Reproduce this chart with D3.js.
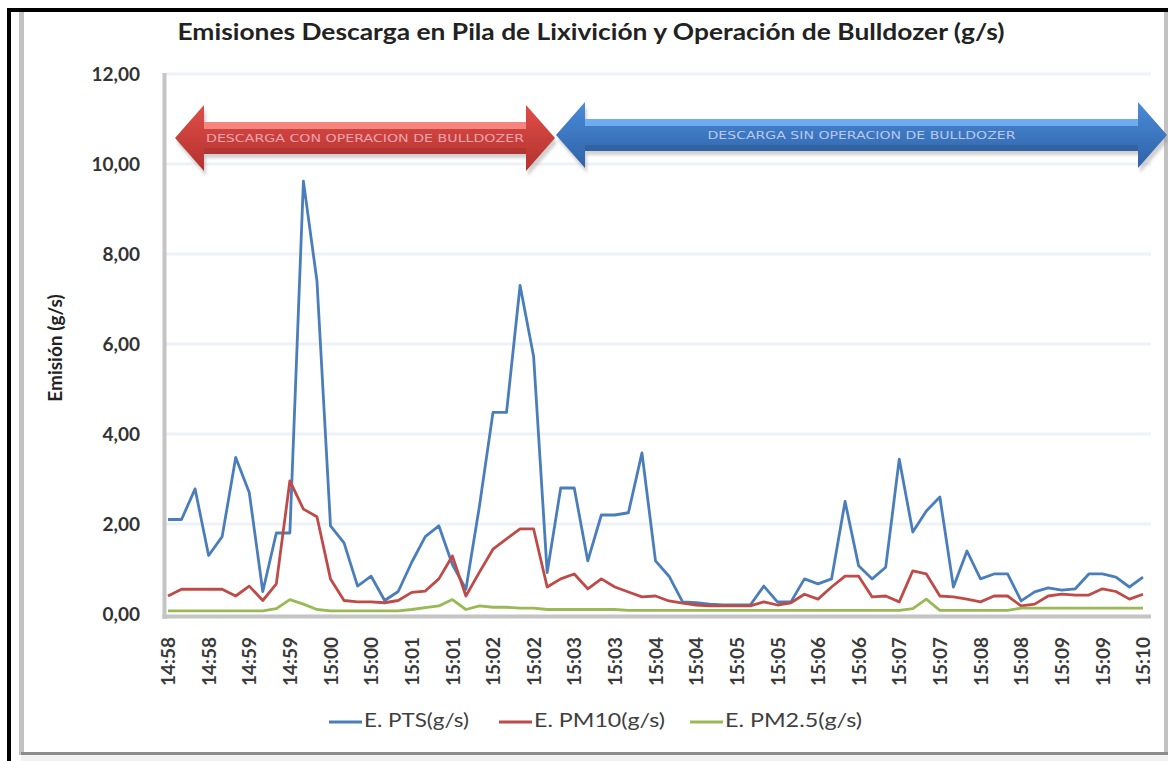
<!DOCTYPE html>
<html>
<head>
<meta charset="utf-8">
<script src="https://cdn.jsdelivr.net/npm/d3@7/dist/d3.min.js"></script>
<style>
  body { margin: 0; background: #fff; }
  svg { display: block; font-family: Lato, "Open Sans", sans-serif; }
</style>
</head>
<body>
<div class="canvas"></div>
<script>
// tick labels every 30 s, one reading every 10 s
const tickLabels = ["14:58", "14:58", "14:59", "14:59", "15:00", "15:00", "15:01", "15:01", "15:02",
  "15:02", "15:03", "15:03", "15:04", "15:04", "15:05", "15:05", "15:06", "15:06", "15:07", "15:07",
  "15:08", "15:08", "15:09", "15:09", "15:10"];

const pts = [2.10, 2.10, 2.78, 1.30, 1.72, 3.48, 2.70, 0.50, 1.80, 1.80, 9.62, 7.40, 1.96, 1.58, 0.62,
  0.84, 0.30, 0.50, 1.15, 1.72, 1.96, 1.10, 0.55, 2.40, 4.48, 4.48, 7.30, 5.72, 0.92, 2.80, 2.80,
  1.18, 2.20, 2.20, 2.25, 3.58, 1.18, 0.84, 0.27, 0.25, 0.22, 0.20, 0.20, 0.20, 0.62, 0.27, 0.27,
  0.78, 0.67, 0.78, 2.50, 1.07, 0.78, 1.04, 3.44, 1.82, 2.29, 2.60, 0.60, 1.40, 0.78, 0.89, 0.89,
  0.29, 0.49, 0.58, 0.53, 0.56, 0.89, 0.89, 0.82, 0.60, 0.82];

const pm10 = [0.40, 0.55, 0.55, 0.55, 0.55, 0.40, 0.62, 0.30, 0.67, 2.96, 2.33, 2.16, 0.78, 0.30, 0.27,
  0.27, 0.25, 0.30, 0.48, 0.51, 0.78, 1.29, 0.40, 0.93, 1.44, 1.67, 1.89, 1.89, 0.60, 0.78, 0.89,
  0.56, 0.78, 0.60, 0.49, 0.38, 0.40, 0.29, 0.24, 0.20, 0.18, 0.18, 0.18, 0.18, 0.27, 0.20, 0.25,
  0.44, 0.33, 0.60, 0.84, 0.84, 0.38, 0.40, 0.27, 0.96, 0.89, 0.40, 0.38, 0.33, 0.27, 0.40, 0.40,
  0.18, 0.22, 0.40, 0.44, 0.42, 0.42, 0.56, 0.50, 0.33, 0.44];

const pm25 = [0.07, 0.07, 0.07, 0.07, 0.07, 0.07, 0.07, 0.07, 0.12, 0.32, 0.22, 0.10, 0.07, 0.07, 0.07,
  0.07, 0.07, 0.07, 0.10, 0.14, 0.18, 0.32, 0.10, 0.18, 0.15, 0.15, 0.13, 0.13, 0.10, 0.10, 0.10,
  0.10, 0.10, 0.10, 0.08, 0.08, 0.08, 0.08, 0.08, 0.08, 0.08, 0.08, 0.08, 0.08, 0.08, 0.08, 0.08,
  0.08, 0.08, 0.08, 0.08, 0.08, 0.08, 0.08, 0.08, 0.12, 0.33, 0.08, 0.08, 0.08, 0.08, 0.08, 0.08,
  0.13, 0.13, 0.13, 0.13, 0.13, 0.13, 0.13, 0.13, 0.13, 0.13];

const seriesNames = ["E. PTS(g/s)", "E. PM10(g/s)", "E. PM2.5(g/s)"];
const seriesColors = ["#4a7ebb", "#be4b48", "#98b954"];
const yTicks = [0, 2, 4, 6, 8, 10, 12];
const bands = ["DESCARGA CON OPERACION DE BULLDOZER", "DESCARGA SIN OPERACION DE BULLDOZER"];

const w = 1168;
const h = 761;

const svg = d3.select(".canvas").append("svg").attr("width", w).attr("height", h);

// frame of the pasted chart
svg.append("rect").attr("x", 7).attr("y", 8).attr("width", w - 7).attr("height", 4).attr("fill", "#000");
svg.append("rect").attr("x", 7).attr("y", 8).attr("width", 4).attr("height", h - 8).attr("fill", "#000");
svg.append("rect").attr("x", 19).attr("y", 12).attr("width", 5).attr("height", 743).attr("fill", "#c2c2c2");
svg.append("rect").attr("x", 1164).attr("y", 12).attr("width", 4).attr("height", 743).attr("fill", "#c2c2c2");
svg.append("rect").attr("x", 21).attr("y", 752).attr("width", w - 21).attr("height", 3).attr("fill", "#8c8c8c");
svg.append("rect").attr("x", 21).attr("y", 755).attr("width", w - 21).attr("height", 6).attr("fill", "#f2f2f2");

const x = d3.scaleLinear().domain([0, pts.length - 1]).range([168, 1143]);
const y = d3.scaleLinear().domain([0, 12]).range([614, 74]);

// gridlines
svg.append("g").
selectAll("line").
data(yTicks.filter(d => d > 0)).
join("line").
attr("x1", 166).attr("x2", 1151).
attr("y1", d => y(d)).attr("y2", d => y(d)).
attr("stroke", "#edf2f9").attr("stroke-width", 3);

// y axis
const yAxis = d3.axisLeft(y).tickValues(yTicks).tickSize(0).tickPadding(24).
tickFormat(d => d3.format(".2f")(d).replace(".", ","));
const gy = svg.append("g").attr("transform", "translate(164,0)").call(yAxis);
gy.select(".domain").remove();
gy.selectAll("text").attr("font-family", "Lato").attr("font-weight", "bold").
attr("font-size", 19).attr("fill", "#333");

// x axis labels
const xAxis = d3.axisBottom(x).tickValues(d3.range(0, pts.length, 3)).tickSize(0).
tickFormat((d, i) => tickLabels[i]);
const gx = svg.append("g").attr("transform", "translate(0,614)").call(xAxis);
gx.select(".domain").remove();
gx.selectAll("text").
attr("transform", "rotate(-90)").
attr("text-anchor", "end").
attr("x", -23).attr("y", 0).attr("dy", "0.35em").
attr("font-family", "Lato").attr("font-weight", "bold").
attr("font-size", 19).attr("fill", "#3a3a3a");

// axis lines
svg.append("line").attr("x1", 164.5).attr("x2", 164.5).attr("y1", 73).attr("y2", 619).
attr("stroke", "#c4c4c4").attr("stroke-width", 4);
svg.append("line").attr("x1", 162.5).attr("x2", 1151).attr("y1", 616.5).attr("y2", 616.5).
attr("stroke", "#c4c4c4").attr("stroke-width", 4);

// series
const line = d3.line().x((d, i) => x(i)).y(d => y(d));
[pts, pm10, pm25].forEach((s, k) => {
  svg.append("path").
  datum(s).
  attr("d", line).
  attr("fill", "none").
  attr("stroke", seriesColors[k]).
  attr("stroke-width", 2.8).
  attr("stroke-linejoin", "round");
});

// double arrows
const defs = svg.append("defs");
defs.append("filter").attr("id", "blur").append("feGaussianBlur").attr("stdDeviation", 1.5);

function arrowPath(x0, x1, cy, head, hh, sh) {
  return `M${x0},${cy} L${x0 + head},${cy - hh} L${x0 + head},${cy - sh} L${x1 - head},${cy - sh} ` +
  `L${x1 - head},${cy - hh} L${x1},${cy} L${x1 - head},${cy + hh} L${x1 - head},${cy + sh} ` +
  `L${x0 + head},${cy + sh} L${x0 + head},${cy + hh} Z`;
}

const arrows = [
{ x0: 175, x1: 555, cy: 138, top: "#df4d48", bottom: "#b3322e", light: "#f6857f", dark: "#a83430", text: "#eba3b0" },
{ x0: 556, x1: 1167, cy: 135, top: "#4b8bd9", bottom: "#2e62a6", light: "#6fabf0", dark: "#2f5a94", text: "#b9c8ee" }];

arrows.forEach((a, k) => {
  const gid = "grad" + k;
  const g = defs.append("linearGradient").attr("id", gid).attr("x1", 0).attr("x2", 0).attr("y1", 0).attr("y2", 1);
  g.append("stop").attr("offset", 0).attr("stop-color", a.top);
  g.append("stop").attr("offset", 1).attr("stop-color", a.bottom);

  svg.append("path").attr("d", arrowPath(a.x0 + 2, a.x1 + 2, a.cy + 5, 29, 33, 15)).
  attr("fill", "#9a9a9a").attr("opacity", 0.45).attr("filter", "url(#blur)");
  svg.append("path").attr("d", arrowPath(a.x0, a.x1, a.cy, 29, 33, 16)).attr("fill", `url(#${gid})`);
  svg.append("rect").attr("x", a.x0 + 29).attr("y", a.cy - 16).attr("width", a.x1 - a.x0 - 58).attr("height", 7).
  attr("fill", a.light);
  svg.append("rect").attr("x", a.x0 + 29).attr("y", a.cy + 10).attr("width", a.x1 - a.x0 - 58).attr("height", 6).
  attr("fill", a.dark).attr("opacity", 0.6);
  svg.append("text").
  attr("x", (a.x0 + a.x1) / 2).attr("y", a.cy + 1).
  attr("text-anchor", "middle").attr("dominant-baseline", "middle").
  attr("font-family", "DejaVu Sans").attr("font-size", 10).
  attr("textLength", k === 0 ? 318 : 308).attr("lengthAdjust", "spacingAndGlyphs").
  attr("fill", a.text).
  text(bands[k]);
});

// title
svg.append("text").
attr("x", 591).attr("y", 40).
attr("text-anchor", "middle").
attr("font-family", "Lato").attr("font-weight", "bold").attr("font-size", 22).
attr("textLength", 827).attr("lengthAdjust", "spacingAndGlyphs").
attr("fill", "#222").
text("Emisiones Descarga en Pila de Lixivición  y Operación de Bulldozer (g/s)");

// y title
svg.append("text").
attr("transform", "translate(57,348) rotate(-90)").
attr("text-anchor", "middle").attr("dominant-baseline", "middle").
attr("font-family", "Lato").attr("font-weight", "bold").attr("font-size", 19).
attr("fill", "#222").
text("Emisión (g/s)");

// legend
const legendX = [329, 499, 690];
const legendW = [105, 131, 137];
const leg = svg.append("g").selectAll("g").data(seriesNames).join("g").
attr("transform", (d, i) => `translate(${legendX[i]},722)`);
leg.append("line").attr("x1", 0).attr("x2", 33).attr("y1", 0).attr("y2", 0).
attr("stroke", (d, i) => seriesColors[i]).attr("stroke-width", 3);
leg.append("text").attr("x", 35).attr("y", 0).attr("dominant-baseline", "middle").
attr("font-family", "Lato").attr("font-size", 19).attr("fill", "#404040").
attr("textLength", (d, i) => legendW[i]).attr("lengthAdjust", "spacingAndGlyphs").
text(d => d);
</script>
</body>
</html>
